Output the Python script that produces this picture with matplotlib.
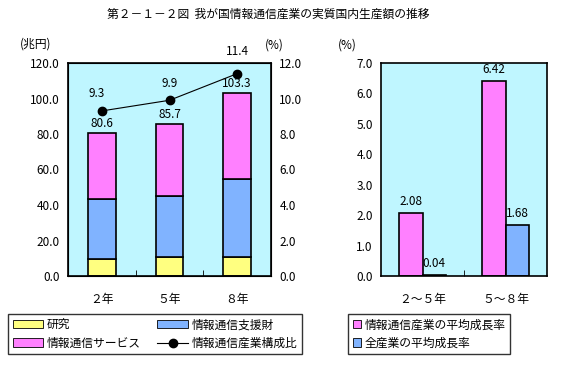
import numpy as np
import matplotlib.pyplot as plt
from matplotlib.patches import Patch
from matplotlib.lines import Line2D

plt.rcParams['font.family'] = ['Noto Sans CJK JP', 'DejaVu Sans']
plt.rcParams['font.size'] = 8

# left chart data (兆円)
years = ['２年', '５年', '８年']
research = [9.6, 10.7, 10.7]
support = [33.7, 34.5, 44.2]
service = [37.3, 40.5, 48.4]
totals = [80.6, 85.7, 103.3]
share = [9.3, 9.9, 11.4]

# right chart data (%)
periods = ['２～５年', '５～８年']
ict_growth = [2.08, 6.42]
all_growth = [0.04, 1.68]

bg = '#bff6ff'
c_yel = '#ffff80'
c_blu = '#80b3ff'
c_pnk = '#ff80ff'

fig = plt.figure(figsize=(5.65, 3.65), dpi=100)
W, H = 565, 365

def ax_at(x0, x1, y0, y1):
    return fig.add_axes([x0 / W, 1 - y1 / H, (x1 - x0) / W, (y1 - y0) / H])

# ---- left: stacked bars + share line
ax = ax_at(68, 271, 63, 276)
ax.set_facecolor(bg)
x = np.arange(len(years))
bw = 0.41
ax.bar(x, research, bw, color=c_yel, edgecolor='black', linewidth=1.2)
ax.bar(x, support, bw, bottom=research, color=c_blu, edgecolor='black', linewidth=1.2)
b2 = np.array(research) + np.array(support)
ax.bar(x, service, bw, bottom=b2, color=c_pnk, edgecolor='black', linewidth=1.2)
for xi, t in zip(x, totals):
    ax.text(xi, t + 1.5, f'{t:.1f}', ha='center', va='bottom', fontsize=8.5)
ax.set_xlim(-0.5, 2.5)
ax.set_ylim(0, 120)
ax.set_yticks(np.arange(0, 121, 20))
ax.set_yticklabels([f'{v:.1f}' for v in np.arange(0, 121, 20)])
ax.set_xticks(x)
ax.set_xticklabels(years)
ax.set_xticks([0.5, 1.5], minor=True)
ax.tick_params(axis='x', which='major', length=0, pad=12, labelsize=8.5)
ax.tick_params(axis='x', which='minor', direction='in', length=4)
ax.tick_params(axis='y', length=0, pad=6, labelsize=8.5)
for s in ax.spines.values():
    s.set_linewidth(1.2)

ax2 = ax.twinx()
ax2.plot(x, share, color='black', linewidth=0.8, marker='o', markersize=6)
ax2.set_ylim(0, 12)
ax2.set_yticks(np.arange(0, 13, 2))
ax2.set_yticklabels([f'{v:.1f}' for v in np.arange(0, 13, 2)])
ax2.tick_params(axis='y', length=0, pad=6, labelsize=8.5)
label_off = [(-0.08, 0.6), (0.0, 0.6), (0.0, 0.9)]
for xi, v, (dx, dy) in zip(x, share, label_off):
    ax2.text(xi + dx, v + dy, f'{v:.1f}', ha='center', va='bottom', fontsize=8.5)

fig.text(36 / W, 1 - 44 / H, '(兆円)', ha='center', va='center', fontsize=8.5)
fig.text(274 / W, 1 - 45 / H, '(%)', ha='center', va='center', fontsize=8.5)
fig.text(347 / W, 1 - 45 / H, '(%)', ha='center', va='center', fontsize=8.5)

# ---- right: growth rates
ax3 = ax_at(381, 547, 63, 276)
ax3.set_facecolor(bg)
xp = np.arange(len(periods))
gw = 0.285
ax3.bar(xp - gw / 2, ict_growth, gw, color=c_pnk, edgecolor='black', linewidth=1.2)
ax3.bar(xp + gw / 2, all_growth, gw, color=c_blu, edgecolor='black', linewidth=1.2)
for xi, v in zip(xp - gw / 2, ict_growth):
    ax3.text(xi, v + 0.15, f'{v:.2f}', ha='center', va='bottom', fontsize=8.5)
for xi, v in zip(xp + gw / 2, all_growth):
    ax3.text(xi, v + 0.15, f'{v:.2f}', ha='center', va='bottom', fontsize=8.5)
ax3.set_xlim(-0.5, 1.5)
ax3.set_ylim(0, 7)
ax3.set_yticks(np.arange(0, 8, 1))
ax3.set_yticklabels([f'{v:.1f}' for v in np.arange(0, 8, 1)])
ax3.set_xticks(xp)
ax3.set_xticklabels(periods)
ax3.set_xticks([0.5], minor=True)
ax3.tick_params(axis='x', which='major', length=0, pad=12, labelsize=8.5)
ax3.tick_params(axis='x', which='minor', direction='in', length=4)
ax3.tick_params(axis='y', length=0, pad=6, labelsize=8.5)
for s in ax3.spines.values():
    s.set_linewidth(1.2)

fig.text(268 / W, 1 - 14 / H, '第２－１－２図  我が国情報通信産業の実質国内生産額の推移',
         ha='center', va='center', fontsize=8.5)

# ---- legends
h1 = [Patch(facecolor=c_yel, edgecolor='black', linewidth=0.6),
      Patch(facecolor=c_pnk, edgecolor='black', linewidth=0.6),
      Patch(facecolor=c_blu, edgecolor='black', linewidth=0.6),
      Line2D([], [], color='black', marker='o', markersize=6, linewidth=0.8)]
l1 = ['研究', '情報通信サービス', '情報通信支援財', '情報通信産業構成比']
leg1 = fig.legend(h1, l1, ncol=2, loc='center', bbox_to_anchor=(155 / W, 1 - 334 / H),
                  frameon=True, fancybox=False, edgecolor='black', fontsize=8.5,
                  handlelength=2.6, handleheight=0.7, columnspacing=1.4,
                  labelspacing=0.45, borderpad=0.35, handletextpad=0.3)
leg1.get_frame().set_linewidth(1.0)

h2 = [Patch(facecolor=c_pnk, edgecolor='black', linewidth=0.6),
      Patch(facecolor=c_blu, edgecolor='black', linewidth=0.6)]
l2 = ['情報通信産業の平均成長率', '全産業の平均成長率']
leg2 = fig.legend(h2, l2, loc='center', bbox_to_anchor=(429 / W, 1 - 334 / H),
                  frameon=True, fancybox=False, edgecolor='black', fontsize=8.5,
                  handlelength=0.7, handleheight=0.7, labelspacing=0.45,
                  borderpad=0.35, handletextpad=0.3)
leg2.get_frame().set_linewidth(1.0)

fig.savefig('out.png', dpi=100)
